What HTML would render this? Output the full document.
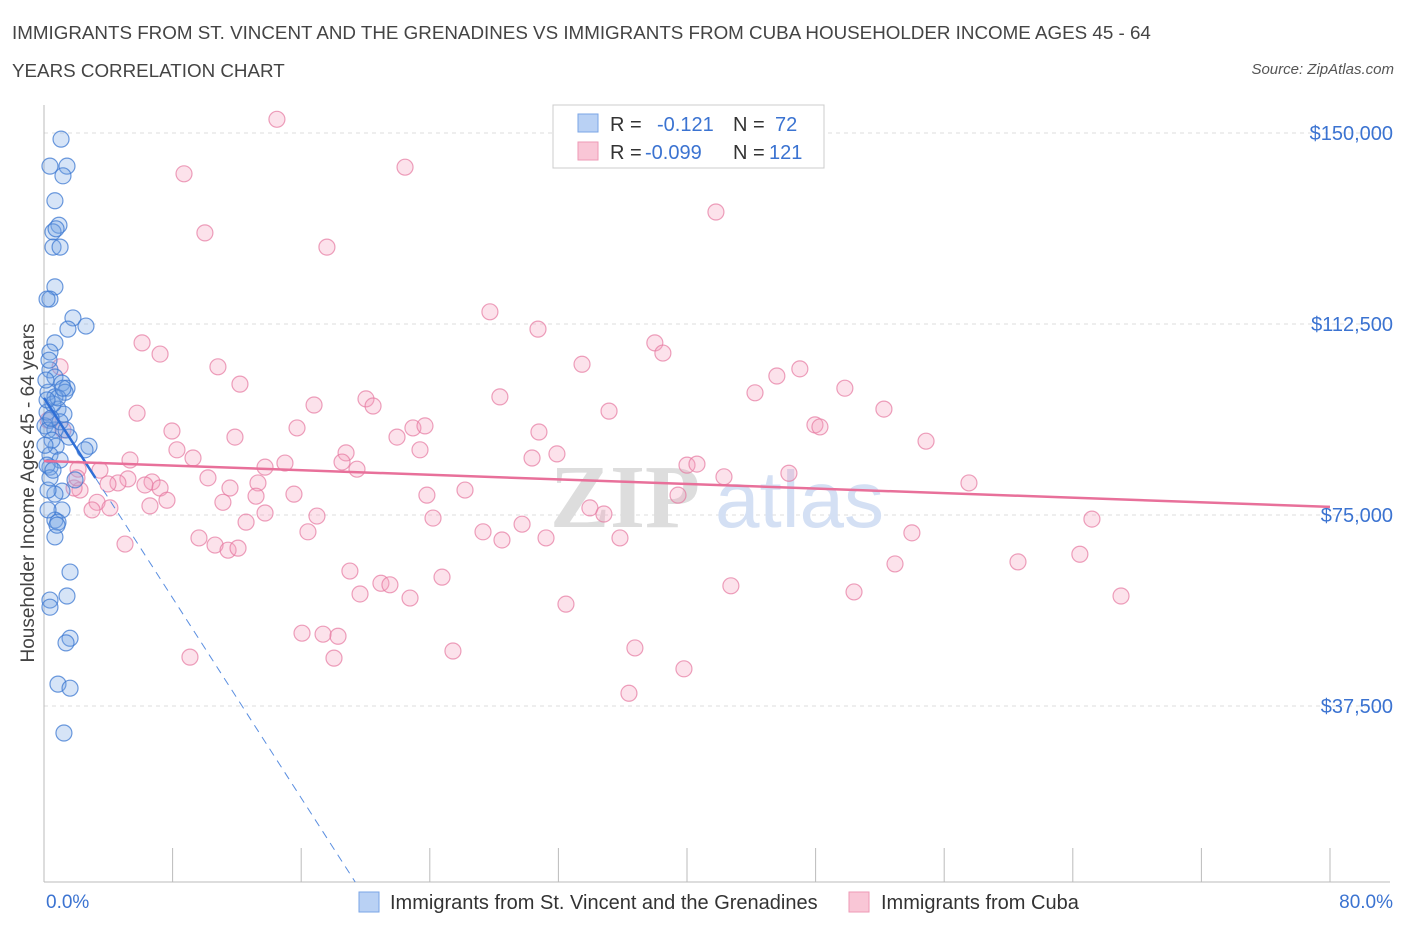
<!DOCTYPE html>
<html><head><meta charset="utf-8"><style>
body{margin:0;background:#fff;font-family:"Liberation Sans",sans-serif;}
#wrap{position:relative;width:1406px;height:930px;overflow:hidden}
.t{position:absolute;white-space:nowrap}
</style></head><body><div id="wrap">
<div class="t" style="left:12px;top:14px;font-size:18.8px;color:#444;line-height:38px">IMMIGRANTS FROM ST. VINCENT AND THE GRENADINES VS IMMIGRANTS FROM CUBA HOUSEHOLDER INCOME AGES 45 - 64<br>YEARS CORRELATION CHART</div>
<div class="t" style="right:12px;top:61px;font-size:15px;color:#555;font-style:italic">Source: ZipAtlas.com</div>
<svg id="svg" width="1406" height="930" style="position:absolute;left:0;top:0"></svg>
</div>
<script>
const blueX=[1.06,0.37,1.43,1.18,0.68,0.93,0.56,0.75,0.56,1.0,0.68,0.37,0.19,1.8,1.49,2.61,0.68,0.37,0.37,0.68,1.12,1.43,1.31,0.25,0.68,0.87,1.24,0.37,0.06,0.68,1.56,0.75,2.8,2.55,0.37,1.0,0.37,0.19,1.12,0.68,0.25,1.12,0.68,0.87,0.68,1.62,1.43,0.37,0.37,1.62,1.37,0.87,1.62,1.24,0.19,0.56,0.12,0.31,0.87,0.25,0.5,1.0,1.37,0.06,0.37,1.93,0.81,0.25,0.56,0.19,1.18,0.44];
const blueY=[148.8,143.5,143.5,141.6,136.7,131.9,130.6,131.2,127.6,127.6,119.8,117.4,117.4,113.7,111.5,112.1,108.8,107.0,103.5,102.1,100.9,99.9,99.1,99.1,98.2,95.8,94.8,93.6,92.5,91.7,90.3,88.5,88.5,87.8,86.8,85.8,84.4,84.8,79.7,79.1,79.9,76.0,74.0,73.6,70.7,63.8,59.1,58.3,56.9,50.8,49.9,41.8,41.0,32.2,95.2,96.8,101.5,105.4,98.0,91.7,89.7,93.3,91.7,88.7,82.3,81.9,73.0,76.0,83.8,97.6,99.9,94.0];
const pinkX=[14.49,22.46,8.71,41.8,10.01,17.6,27.74,30.73,6.1,7.22,38.0,38.5,33.47,10.82,47.02,45.59,12.19,49.82,28.36,44.23,20.03,20.47,16.8,5.79,35.15,52.25,22.95,23.7,15.74,7.96,21.96,30.79,47.96,48.27,54.87,11.88,8.27,18.79,23.39,31.91,30.36,9.27,18.54,13.75,14.99,19.47,40.0,40.62,5.35,3.48,2.12,10.2,42.3,46.34,57.54,13.31,6.72,5.22,4.6,6.28,3.98,2.24,1.87,7.22,11.57,15.55,23.82,26.19,39.44,13.19,7.65,3.3,11.13,33.96,4.1,6.59,2.99,16.98,13.75,24.2,34.83,12.57,65.19,29.74,16.42,27.31,28.49,31.23,35.83,9.64,53.99,5.04,10.64,11.45,12.07,64.44,60.59,52.94,19.03,24.76,20.96,21.52,42.73,19.66,22.77,50.39,67.0,32.47,16.05,17.36,18.29,18.04,25.44,36.76,9.08,39.81,36.39,1.0,1.18,2.05,0.25];
const pinkY=[152.7,143.3,142.0,134.5,130.4,127.6,114.9,111.5,108.8,106.6,108.8,106.8,104.6,104.1,103.7,102.3,100.7,99.9,98.2,99.0,97.8,96.4,96.6,95.0,95.4,95.8,92.1,92.5,92.1,91.5,90.3,91.3,92.7,92.3,89.5,90.3,87.8,87.2,87.8,87.0,86.2,86.2,85.4,84.4,85.2,84.0,84.8,85.0,85.8,83.8,84.0,82.3,82.5,83.2,81.3,81.3,81.5,82.1,81.3,80.9,81.1,79.9,80.3,80.3,80.3,79.1,78.9,79.9,78.9,78.7,77.9,77.5,77.5,76.4,76.4,76.8,76.0,74.8,75.4,74.4,75.2,73.6,74.2,73.2,71.7,71.7,70.1,70.5,70.5,70.5,71.5,69.3,69.1,68.1,68.5,67.3,65.8,65.4,64.0,62.8,61.6,61.3,61.1,59.5,58.7,59.9,59.1,57.5,51.8,51.6,51.2,46.9,48.3,48.9,47.1,44.8,40.0,104.1,91.7,82.3,93.6];
const yTicks=[37500,75000,112500,150000];
const yTickLabels=["$37,500","$75,000","$112,500","$150,000"];
const blueTrend=[98.0,-4.91]; // intercept (k$), slope per %
const pinkTrend=[85.6,-0.1125];

const X=p=>44+p*16.075;
const Y=k=>897-k*5.093;
const svg=document.getElementById('svg');
const NS='http://www.w3.org/2000/svg';
function mk(tag,attrs,name){const e=document.createElementNS(NS,tag);for(const a in attrs)e.setAttribute(a,attrs[a]);


svg.appendChild(e);return e;}
yTicks.forEach((v,i)=>{const y=Y(v/1000);
mk('line',{x1:44,x2:1390,y1:y,y2:y,stroke:'#ddd','stroke-dasharray':'4,4'},'gridline');
const t=mk('text',{x:1393,y:y+7,'text-anchor':'end','font-size':20,fill:'#3b73d1'},'y-tick-label');t.textContent=yTickLabels[i];});
mk('line',{x1:44,x2:44,y1:105,y2:882,stroke:'#bbb'},'y-axis-line');
mk('line',{x1:44,x2:1390,y1:882,y2:882,stroke:'#bbb'},'x-axis-line');
for(let i=0;i<=10;i++){const x=X(i*8);mk('line',{x1:x,x2:x,y1:848,y2:882,stroke:'#bbb'},'x-tick');}
let tt=mk('text',{x:46,y:908,'font-size':19,fill:'#3b73d1'},'x-min-label');tt.textContent='0.0%';
tt=mk('text',{x:1393,y:908,'text-anchor':'end','font-size':19,fill:'#3b73d1'},'x-max-label');tt.textContent='80.0%';
tt=mk('text',{x:0,y:0,'font-size':19,fill:'#444','text-anchor':'middle',transform:'translate(34,493) rotate(-90)'},'y-axis-title');tt.textContent='Householder Income Ages 45 - 64 years';
tt=mk('text',{x:550,y:527,'font-size':90,fill:'#ddd','font-weight':'bold','font-family':'Liberation Serif'},'watermark-zip');tt.textContent='ZIP';
tt=mk('text',{x:715,y:527,'font-size':80,fill:'#d4e0f4'},'watermark-atlas');tt.textContent='atlas';
pinkX.forEach((p,i)=>mk('circle',{cx:X(p),cy:Y(pinkY[i]),r:8,fill:'rgba(244,160,190,0.3)',stroke:'rgba(230,120,160,0.7)','stroke-width':1.2},'cuba-point'));
blueX.forEach((p,i)=>mk('circle',{cx:X(p),cy:Y(blueY[i]),r:8,fill:'rgba(120,165,230,0.3)',stroke:'rgba(60,120,210,0.75)','stroke-width':1.2},'svg-point'));
const bx2=3.2, bx3=(blueTrend[0]-(897-882)/5.093)/(-blueTrend[1]);
mk('line',{x1:X(0),y1:Y(blueTrend[0]),x2:X(bx2),y2:Y(blueTrend[0]+blueTrend[1]*bx2),stroke:'#2f6fd6','stroke-width':2.5},'svg-trend-line');
mk('line',{x1:X(bx2),y1:Y(blueTrend[0]+blueTrend[1]*bx2),x2:X(bx3),y2:Y(blueTrend[0]+blueTrend[1]*bx3),stroke:'#5a8ee0','stroke-width':1,'stroke-dasharray':'8,6'},'svg-trend-extension');
mk('line',{x1:X(0),y1:Y(pinkTrend[0]),x2:X(80),y2:Y(pinkTrend[0]+pinkTrend[1]*80),stroke:'#e8709a','stroke-width':2.5},'cuba-trend-line');
mk('rect',{x:553,y:105,width:271,height:63,fill:'#fff',stroke:'#ccc'},'legend-box');
mk('rect',{x:578,y:114,width:20,height:18,fill:'#b9d1f4',stroke:'#7aa5e6'},'legend-swatch-svg');
mk('rect',{x:578,y:142,width:20,height:18,fill:'#f9c6d6',stroke:'#ee9ab6'},'legend-swatch-cuba');
function lt(x,y,s,c,n){const e=mk('text',{x:x,y:y,'font-size':20,fill:c},n);e.textContent=s;}
lt(610,131,'R =','#333','legend-r-label');lt(657,131,'-0.121','#3b73d1','legend-r-svg');lt(733,131,'N =','#333','legend-n-label');lt(775,131,'72','#3b73d1','legend-n-svg');
lt(610,159,'R =','#333','legend-r-label');lt(645,159,'-0.099','#3b73d1','legend-r-cuba');lt(733,159,'N =','#333','legend-n-label');lt(769,159,'121','#3b73d1','legend-n-cuba');
mk('rect',{x:359,y:892,width:20,height:20,fill:'#b9d1f4',stroke:'#7aa5e6'},'bottom-legend-swatch-svg');
lt(390,909,'Immigrants from St. Vincent and the Grenadines','#333','bottom-legend-svg');
mk('rect',{x:849,y:892,width:20,height:20,fill:'#f9c6d6',stroke:'#ee9ab6'},'bottom-legend-swatch-cuba');
lt(881,909,'Immigrants from Cuba','#333','bottom-legend-cuba');
</script></body></html>
